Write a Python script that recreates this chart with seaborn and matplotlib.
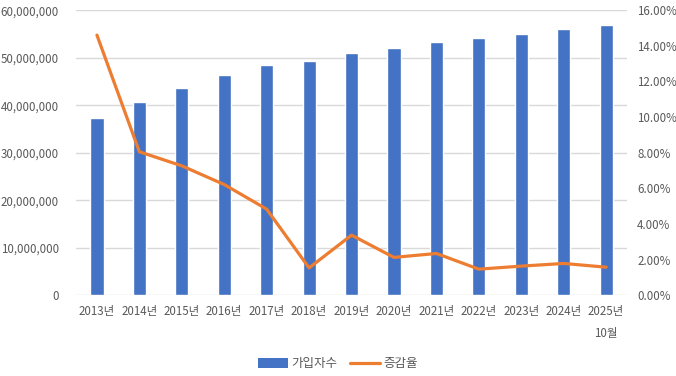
import numpy as np
import pandas as pd
import matplotlib
matplotlib.use("Agg")
import matplotlib.pyplot as plt
import seaborn as sns
from matplotlib.ticker import FuncFormatter, MultipleLocator
from matplotlib.patches import Patch
from matplotlib.lines import Line2D

# 데이터
years = ["2013년", "2014년", "2015년", "2016년", "2017년", "2018년", "2019년",
         "2020년", "2021년", "2022년", "2023년", "2024년", "2025년\n10월"]
subscribers = [37.4e6, 40.6e6, 43.6e6, 46.3e6, 48.4e6, 49.3e6, 51.0e6,
               52.0e6, 53.3e6, 54.1e6, 54.9e6, 56.0e6, 56.8e6]
growth_rate = [14.6, 8.05, 7.26, 6.21, 4.83, 1.53, 3.37,
               2.12, 2.34, 1.46, 1.63, 1.78, 1.57]

BAR_COLOR = "#4472C4"
LINE_COLOR = "#ED7D31"
TEXT_COLOR = "#595959"
GRID_COLOR = "#D9D9D9"

sns.set_theme(style="white")
plt.rcParams['font.family'] = ['Noto Sans CJK KR', 'DejaVu Sans']
plt.rcParams['axes.unicode_minus'] = False

df = pd.DataFrame({"year": years, "subs": subscribers, "rate": growth_rate})

fig, ax = plt.subplots(figsize=(6.76, 3.76), dpi=100)
fig.subplots_adjust(left=0.112, right=0.928, top=0.973, bottom=0.215)

sns.barplot(data=df, x="year", y="subs", color=BAR_COLOR, width=0.31,
            saturation=1, ax=ax, zorder=2)
ax.set_xlim(-0.5, len(years) - 0.5)
ax.set_ylim(0, 60e6)
ax.yaxis.set_major_locator(MultipleLocator(10e6))
ax.yaxis.set_major_formatter(FuncFormatter(lambda v, p: f"{v:,.0f}"))
ax.grid(axis="y", color=GRID_COLOR, linewidth=1, zorder=0)
ax.set_axisbelow(True)
ax.set_xlabel("")
ax.set_ylabel("")
for s in ax.spines.values():
    s.set_visible(False)
ax.tick_params(axis="y", length=0, pad=12, labelsize=8.3, labelcolor=TEXT_COLOR)
ax.tick_params(axis="x", length=0, pad=7, labelsize=8.3, labelcolor=TEXT_COLOR)
for lbl in ax.get_xticklabels():
    lbl.set_linespacing(1.9)

ax2 = ax.twinx()
sns.lineplot(data=df, x="year", y="rate", color=LINE_COLOR, linewidth=2.3,
             ax=ax2, sort=False)
ax2.set_ylim(0, 16)
ax2.yaxis.set_major_locator(MultipleLocator(2))
ax2.yaxis.set_major_formatter(FuncFormatter(lambda v, p: f"{v:.2f}%"))
ax2.set_xlim(-0.5, len(years) - 0.5)
ax2.set_ylabel("")
ax2.grid(False)
for s in ax2.spines.values():
    s.set_visible(False)
ax2.tick_params(axis="y", length=0, pad=7, labelsize=8.3, labelcolor=TEXT_COLOR)

handles = [Patch(facecolor=BAR_COLOR, edgecolor="none"),
           Line2D([0], [0], color=LINE_COLOR, linewidth=2.3)]
fig.legend(handles, ["가입자수", "증감율"], loc="center", bbox_to_anchor=(0.5, 0.033),
           ncol=2, frameon=False, fontsize=9, labelcolor=TEXT_COLOR,
           handlelength=2.4, handleheight=0.8, handletextpad=0.3, columnspacing=1.0)

fig.savefig("out.png", dpi=100)
